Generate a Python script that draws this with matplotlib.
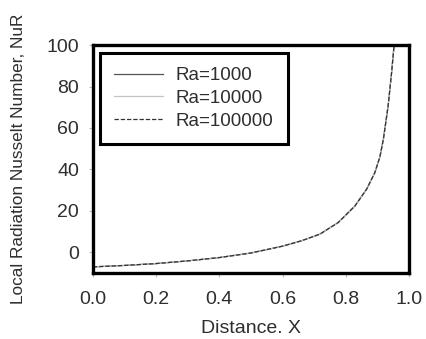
import matplotlib
matplotlib.use("Agg")
import matplotlib.pyplot as plt

plt.rcParams["font.family"] = ["Liberation Sans", "DejaVu Sans"]

# local radiation Nusselt number along the wall, one series per Rayleigh number
distance = [0.0, 0.1, 0.2, 0.3, 0.4, 0.5, 0.6, 0.66, 0.718, 0.776, 0.829,
            0.866, 0.892, 0.908, 0.919, 0.934, 0.945, 0.953]
nu_ra1e3 = [-7.1, -6.4, -5.5, -4.2, -2.6, -0.4, 2.9, 5.5, 8.7, 14.3, 22.3,
            30.4, 38.4, 46.0, 54.5, 70.5, 86.6, 100.0]
nu_ra1e4 = list(nu_ra1e3)
nu_ra1e5 = list(nu_ra1e3)
labels = ["Ra=1000", "Ra=10000", "Ra=100000"]

xticks = [0.0, 0.2, 0.4, 0.6, 0.8, 1.0]
yticks = [0, 20, 40, 60, 80, 100]

txt = "#2e2e2e"

fig = plt.figure(figsize=(4.26, 3.39), dpi=100)
ax = fig.add_axes([0.218, 0.195, 0.742, 0.672])

ax.plot(distance, nu_ra1e3, color="#555555", lw=0.9, label=labels[0])
ax.plot(distance, nu_ra1e4, color="#c4c4c4", lw=0.9, label=labels[1])
ax.plot(distance, nu_ra1e5, color="#333333", lw=0.9, ls=(0, (3.5, 1.5)),
        label=labels[2])

ax.set_xlim(0, 1)
ax.set_ylim(-10, 100)
ax.set_xticks(xticks)
ax.set_xticklabels([f"{v:.1f}" for v in xticks])
ax.set_yticks(yticks)

for s in ax.spines.values():
    s.set_linewidth(2.4)
    s.set_color("black")

ax.tick_params(direction="out", length=3, width=0.8, color="#bbbbbb",
               labelsize=14, labelcolor=txt)
ax.tick_params(axis="x", pad=10)
ax.tick_params(axis="y", pad=7)

ax.set_xlabel("Distance. X", fontsize=14, color=txt, labelpad=9)
ax.set_ylabel("Local Radiation Nusselt Number, NuR", fontsize=12.4,
              color=txt)
ax.yaxis.set_label_coords(-0.21, 0.5)

leg = ax.legend(loc="upper left", bbox_to_anchor=(0.022, 0.965),
                fontsize=13.5, handlelength=2.6, handletextpad=0.7,
                labelspacing=0.3, borderpad=0.75, borderaxespad=0,
                fancybox=False, framealpha=1, edgecolor="black")
leg.get_frame().set_linewidth(2.2)
for t in leg.get_texts():
    t.set_color(txt)

fig.savefig("out.png", dpi=100)
